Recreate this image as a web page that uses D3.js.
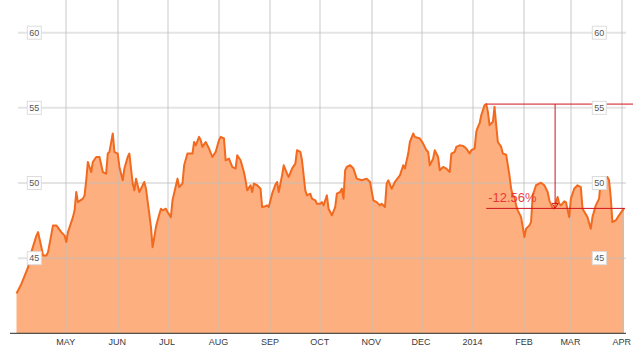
<!DOCTYPE html>
<html>
<head>
<meta charset="utf-8">
<script src="https://cdn.jsdelivr.net/npm/d3@7"></script>
<style>
  html, body { margin: 0; padding: 0; background: #fff; }
  svg { display: block; font-family: Arial, "Liberation Sans", sans-serif; }
</style>
</head>
<body>
<svg id="chart" width="633" height="350"></svg>
<script>
// daily closes (Apr 2013 - Apr 2014)
const dates = [
  "2013-04-01","2013-04-04","2013-04-06","2013-04-08","2013-04-09","2013-04-13","2013-04-14","2013-04-16",
  "2013-04-17","2013-04-19","2013-04-20","2013-04-23","2013-04-25","2013-04-28","2013-04-30",
  "2013-05-01","2013-05-02","2013-05-05","2013-05-06","2013-05-07","2013-05-08","2013-05-11","2013-05-12",
  "2013-05-13","2013-05-14","2013-05-16","2013-05-17","2013-05-19","2013-05-21","2013-05-23","2013-05-25",
  "2013-05-26","2013-05-27","2013-05-29","2013-05-30",
  "2013-06-01","2013-06-02","2013-06-04","2013-06-05","2013-06-07","2013-06-08","2013-06-10","2013-06-11",
  "2013-06-12","2013-06-14","2013-06-15","2013-06-17","2013-06-18","2013-06-20","2013-06-21","2013-06-22",
  "2013-06-24","2013-06-25","2013-06-27","2013-06-28","2013-06-30",
  "2013-07-01","2013-07-03","2013-07-04","2013-07-07","2013-07-08","2013-07-10","2013-07-11","2013-07-13",
  "2013-07-16","2013-07-17","2013-07-18","2013-07-20","2013-07-21","2013-07-22","2013-07-24","2013-07-26",
  "2013-07-28","2013-07-30",
  "2013-08-01","2013-08-02","2013-08-04","2013-08-05","2013-08-07","2013-08-09","2013-08-11","2013-08-12",
  "2013-08-14","2013-08-16","2013-08-17","2013-08-18","2013-08-20","2013-08-21","2013-08-22","2013-08-24",
  "2013-08-26","2013-08-27","2013-08-29","2013-08-30","2013-08-31",
  "2013-09-02","2013-09-04","2013-09-05","2013-09-06","2013-09-08","2013-09-09","2013-09-11","2013-09-12",
  "2013-09-14","2013-09-16","2013-09-17","2013-09-19","2013-09-20","2013-09-22","2013-09-23","2013-09-25",
  "2013-09-26","2013-09-28","2013-09-29",
  "2013-10-01","2013-10-02","2013-10-03","2013-10-05","2013-10-06","2013-10-08","2013-10-10","2013-10-11",
  "2013-10-13","2013-10-14","2013-10-15","2013-10-16","2013-10-17","2013-10-19","2013-10-21","2013-10-23",
  "2013-10-26","2013-10-29","2013-10-31",
  "2013-11-02","2013-11-04","2013-11-06","2013-11-07","2013-11-09","2013-11-10","2013-11-11","2013-11-13",
  "2013-11-15","2013-11-18","2013-11-20","2013-11-21","2013-11-23","2013-11-24","2013-11-26","2013-11-27",
  "2013-11-30",
  "2013-12-02","2013-12-04","2013-12-05","2013-12-06","2013-12-08","2013-12-09","2013-12-11","2013-12-12",
  "2013-12-14","2013-12-16","2013-12-18","2013-12-19","2013-12-21","2013-12-22","2013-12-24","2013-12-26",
  "2013-12-28","2013-12-30","2013-12-31",
  "2014-01-02","2014-01-03","2014-01-04","2014-01-05","2014-01-06","2014-01-08","2014-01-09","2014-01-10",
  "2014-01-11","2014-01-13","2014-01-14","2014-01-15","2014-01-16","2014-01-18","2014-01-19","2014-01-21",
  "2014-01-23","2014-01-24","2014-01-25","2014-01-26","2014-01-27","2014-01-28","2014-01-30",
  "2014-02-01","2014-02-02","2014-02-04","2014-02-05","2014-02-06","2014-02-07","2014-02-08","2014-02-11",
  "2014-02-13","2014-02-15","2014-02-16","2014-02-18","2014-02-19","2014-02-21","2014-02-22","2014-02-23",
  "2014-02-25","2014-02-26","2014-02-28",
  "2014-03-01","2014-03-03","2014-03-05","2014-03-07","2014-03-08","2014-03-11","2014-03-13","2014-03-14",
  "2014-03-16","2014-03-18","2014-03-19","2014-03-20","2014-03-23","2014-03-24","2014-03-25","2014-03-26",
  "2014-03-28","2014-03-30","2014-04-02"
];
const prices = [
  42.65,43.30,43.85,44.40,45.07,46.50,46.73,45.73,
  45.18,45.18,45.40,47.18,47.18,46.73,46.50,
  46.07,46.73,47.73,48.18,49.40,48.73,48.96,49.18,
  50.18,51.40,50.73,51.40,51.73,51.73,50.73,50.62,
  51.96,52.07,53.30,52.07,
  51.96,51.07,50.18,50.96,51.73,51.96,49.96,49.51,
  50.29,49.40,49.62,50.07,49.62,47.96,47.07,45.73,
  47.07,47.51,48.29,48.18,48.29,
  48.07,47.73,48.85,50.29,49.73,49.96,51.18,51.96,
  51.96,52.73,52.51,53.07,52.85,52.40,52.73,52.29,
  51.73,52.07,
  52.85,53.07,52.96,51.51,51.62,51.07,50.96,51.85,
  51.51,50.73,50.18,49.51,49.85,49.40,49.96,49.85,
  49.62,48.40,48.45,48.51,48.40,
  49.29,49.90,50.07,49.40,50.51,51.18,50.62,50.40,
  50.96,51.29,52.18,52.07,51.51,49.51,49.18,49.29,
  48.96,48.85,48.62,
  48.62,48.73,48.51,49.18,48.29,47.85,48.40,49.29,
  49.40,49.62,48.96,50.85,51.07,51.18,50.96,50.29,
  50.18,50.29,50.07,
  48.85,48.73,48.51,48.62,48.40,49.96,50.18,49.62,
  50.07,50.51,51.18,50.96,51.96,52.73,53.29,53.07,
  52.96,
  52.62,52.18,52.07,51.18,51.62,52.18,51.73,50.85,
  51.07,50.96,50.73,51.96,52.07,52.40,52.51,52.47,
  52.29,51.96,52.18,
  52.29,53.40,53.73,53.96,54.51,55.18,55.25,54.73,
  53.85,54.07,55.07,53.85,52.73,52.40,51.96,51.89,
  50.51,49.62,49.18,49.07,48.51,48.18,47.73,
  46.40,46.96,47.18,47.40,49.18,49.51,49.85,50.02,
  49.85,49.40,48.85,48.33,48.30,49.07,48.62,48.51,
  48.78,48.73,47.73,
  48.96,49.62,49.85,49.73,48.29,47.73,46.96,47.73,
  48.51,48.96,50.18,50.29,50.40,50.18,49.07,47.40,
  47.51,47.85,48.31
];
const yTicks = [45, 50, 55, 60];
const monthNames = ["JAN","FEB","MAR","APR","MAY","JUN","JUL","AUG","SEP","OCT","NOV","DEC"];

const W = 633, H = 350;
const parse = d3.timeParse("%Y-%m-%d");
const data = dates.map((d, i) => ({ date: parse(d), value: prices[i] }));

const x = d3.scaleTime()
  .domain([parse("2013-04-01"), parse("2014-04-02")])
  .range([16.5, 624]);
const y = d3.scaleLinear().domain([40, 60]).range([333.3, 32.7]);

const svg = d3.select("#chart");
const baseY = y(40);
const gridLeft = 18, gridRight = 626;

// area + line
svg.append("path")
  .datum(data)
  .attr("fill", "#fdaf7f")
  .attr("d", d3.area().x((d) => x(d.date)).y0(baseY).y1((d) => y(d.value)));

// grid on top of the fill, semi-transparent so it shows through
const monthTicks = d3.timeMonth.range(parse("2013-05-01"), parse("2014-04-02"));
const grid = svg.append("g").attr("stroke", "rgba(190,190,190,0.42)").attr("stroke-width", 2);
grid.selectAll("line.v")
  .data(monthTicks)
  .join("line")
  .attr("class", "v")
  .attr("x1", (d) => Math.round(x(d)))
  .attr("x2", (d) => Math.round(x(d)))
  .attr("y1", 0)
  .attr("y2", baseY);
grid.selectAll("line.h")
  .data(yTicks)
  .join("line")
  .attr("class", "h")
  .attr("x1", gridLeft)
  .attr("x2", gridRight)
  .attr("y1", (d) => y(d))
  .attr("y2", (d) => y(d));

svg.append("path")
  .datum(data)
  .attr("fill", "none")
  .attr("stroke", "#f26a1f")
  .attr("stroke-width", 2)
  .attr("stroke-linejoin", "round")
  .attr("d", d3.line().x((d) => x(d.date)).y((d) => y(d.value)));

// bottom axis
svg.append("line")
  .attr("x1", 10).attr("x2", gridRight)
  .attr("y1", baseY).attr("y2", baseY)
  .attr("stroke", "#2a2a2a").attr("stroke-width", 1);

svg.append("g")
  .selectAll("text")
  .data(monthTicks)
  .join("text")
  .attr("x", (d) => x(d) - 0.5)
  .attr("y", 344.5)
  .attr("text-anchor", "middle")
  .attr("font-size", 9)
  .attr("fill", "#3a3a3a")
  .text((d) => (d.getMonth() === 0 ? d.getFullYear() : monthNames[d.getMonth()]));

// drawdown annotation: peak -> last close
const peak = data.reduce((a, b) => (b.value > a.value ? b : a));
const last = data[data.length - 1];
const px = x(peak.date), lx = x(last.date);
const midX = (px + lx) / 2;
const red = "#d0141c";

const ann = svg.append("g");
ann.append("line")
  .attr("x1", px).attr("x2", W)
  .attr("y1", y(peak.value)).attr("y2", y(peak.value))
  .attr("stroke", red).attr("stroke-width", 1);
ann.append("line")
  .attr("x1", px).attr("x2", lx + 1)
  .attr("y1", y(last.value)).attr("y2", y(last.value))
  .attr("stroke", red).attr("stroke-width", 1);
ann.append("line")
  .attr("x1", midX).attr("x2", midX)
  .attr("y1", y(peak.value)).attr("y2", y(last.value) - 5)
  .attr("stroke", red).attr("stroke-width", 1);
ann.append("path")
  .attr("d", `M${midX - 3},${y(last.value) - 5}L${midX + 3},${y(last.value) - 5}L${midX},${y(last.value)}Z`)
  .attr("fill", "none")
  .attr("stroke", red)
  .attr("stroke-width", 1);

// y labels in little boxes, both sides (boxes sit over the annotation lines)
const labelX = [34.3, 599.3];
const labels = svg.append("g");
labelX.forEach((cx) => {
  const g = labels.selectAll(null)
    .data(yTicks)
    .join("g")
    .attr("transform", (d) => `translate(${cx},${y(d)})`);
  g.append("rect")
    .attr("x", -7).attr("y", -6.5)
    .attr("width", 14).attr("height", 13)
    .attr("fill", "#fff")
    .attr("stroke", "#dcdcdc");
  g.append("text")
    .attr("y", 3.3)
    .attr("text-anchor", "middle")
    .attr("font-size", 9)
    .attr("fill", "#555")
    .text((d) => d);
});

const pct = ((last.value / peak.value - 1) * 100).toFixed(2) + "%";
svg.append("text")
  .attr("x", px + 2)
  .attr("y", y(last.value) - 6)
  .attr("font-size", 13)
  .attr("fill", "#e8262c")
  .attr("fill-opacity", 0.9)
  .text(pct);
</script>
</body>
</html>
